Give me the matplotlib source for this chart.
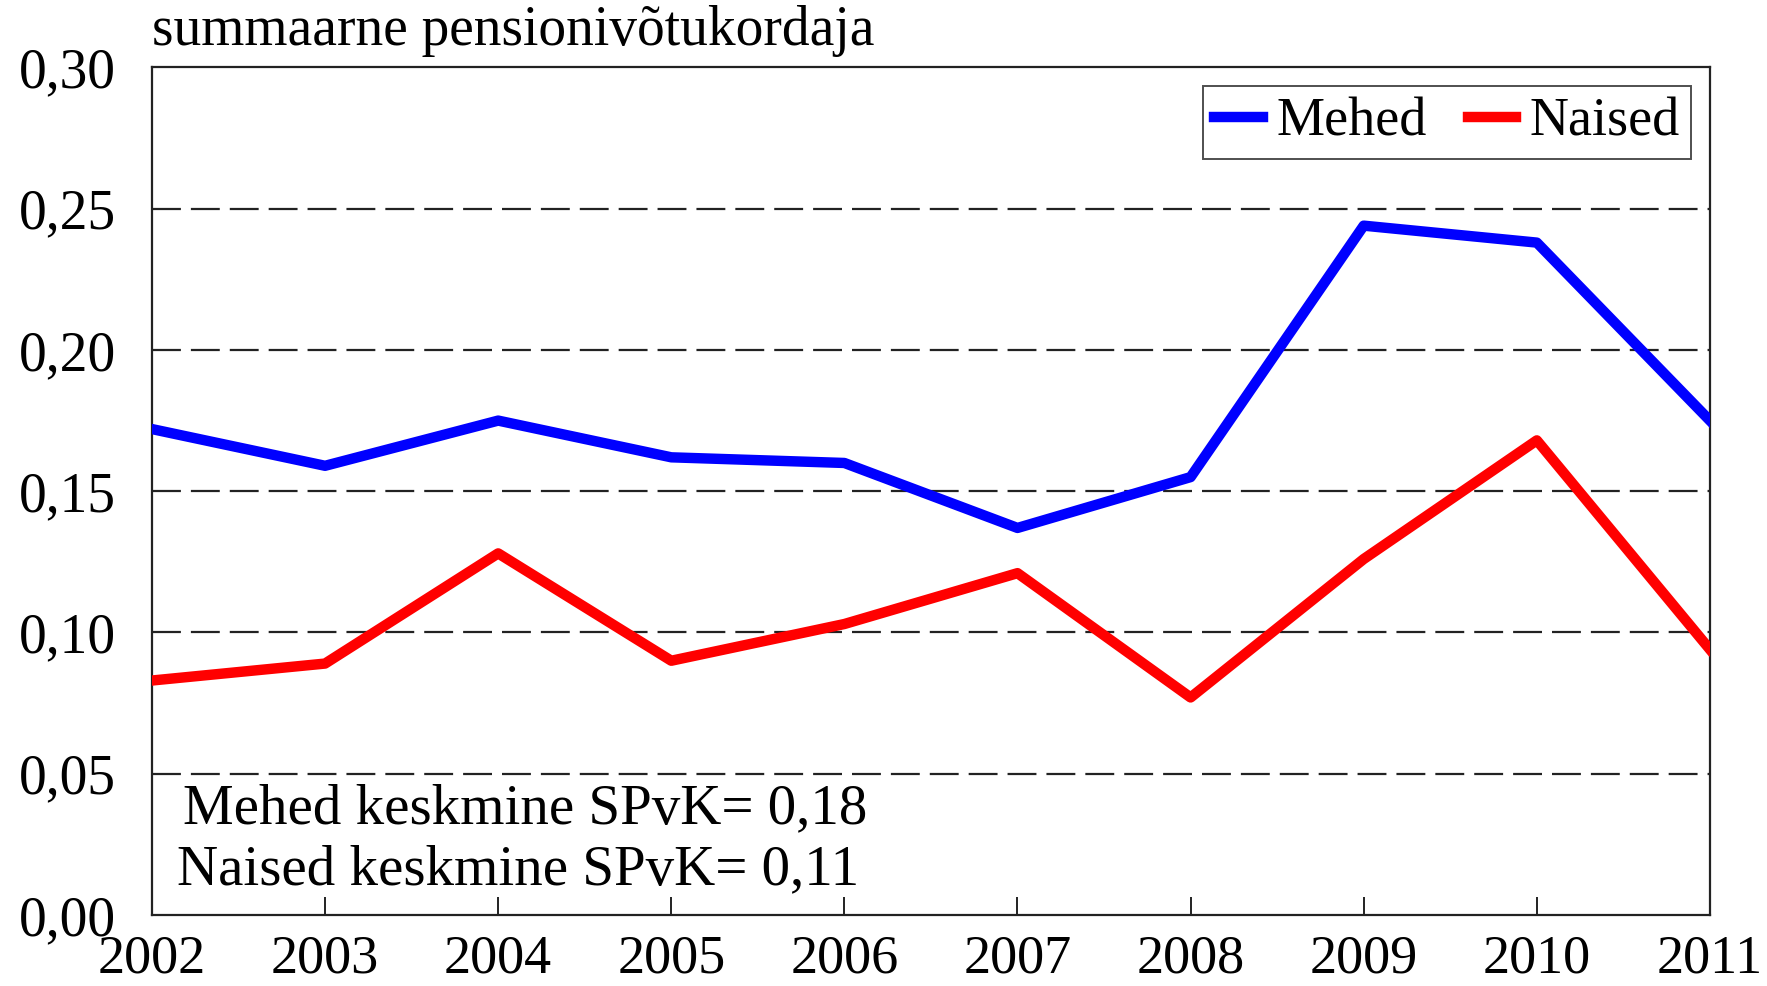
import matplotlib
matplotlib.use('Agg')
import matplotlib.pyplot as plt

# andmed
years = [2002, 2003, 2004, 2005, 2006, 2007, 2008, 2009, 2010, 2011]
mehed = [0.172, 0.159, 0.175, 0.162, 0.160, 0.137, 0.155, 0.244, 0.238, 0.175]
naised = [0.083, 0.089, 0.128, 0.090, 0.103, 0.121, 0.077, 0.126, 0.168, 0.094]
yticks = [0.00, 0.05, 0.10, 0.15, 0.20, 0.25, 0.30]
grid_levels = [0.05, 0.10, 0.15, 0.20, 0.25]

plt.rcParams['font.family'] = ['Liberation Serif', 'DejaVu Serif']

fig = plt.figure(figsize=(17.67, 9.86), dpi=100)
ax = fig.add_axes([0.086, 0.072, 0.8817, 0.8596])

# katkendlikud abijooned
for g in grid_levels:
    ax.axhline(g, color='#222222', lw=1.6, linestyle=(0, (13, 4.5)), zorder=1)

ax.plot(years, mehed, color='#0000ff', lw=7.5, label='Mehed', zorder=3)
ax.plot(years, naised, color='#ff0000', lw=7.5, label='Naised', zorder=3)

ax.set_xlim(2002, 2011)
ax.set_ylim(0, 0.30)
ax.set_xticks(years)
ax.set_xticklabels([str(y) for y in years], fontsize=39)
ax.set_yticks(yticks)
ax.set_yticklabels([f'{v:.2f}'.replace('.', ',') for v in yticks], fontsize=40)
ax.tick_params(axis='x', direction='in', length=13, width=1.4, pad=14, color='#222222')
ax.tick_params(axis='y', length=0, pad=26)
for s in ax.spines.values():
    s.set_linewidth(1.6)
    s.set_color('#222222')

ax.text(0.0, 1.012, 'summaarne pensionivõtukordaja', transform=ax.transAxes,
        fontsize=40, ha='left', va='bottom')

ax.text(0.02, 0.125, 'Mehed keskmine SPvK= 0,18', transform=ax.transAxes,
        fontsize=41, ha='left', va='center')
ax.text(0.016, 0.053, 'Naised keskmine SPvK= 0,11', transform=ax.transAxes,
        fontsize=41, ha='left', va='center')

leg = ax.legend(loc='upper right', ncol=2, fontsize=39, frameon=True, fancybox=False,
                edgecolor='#222222', handlelength=0.9, handletextpad=0.25,
                columnspacing=0.75, borderpad=0.2, borderaxespad=0.35)
leg.get_frame().set_linewidth(1.4)

fig.savefig('out.png', dpi=100)
